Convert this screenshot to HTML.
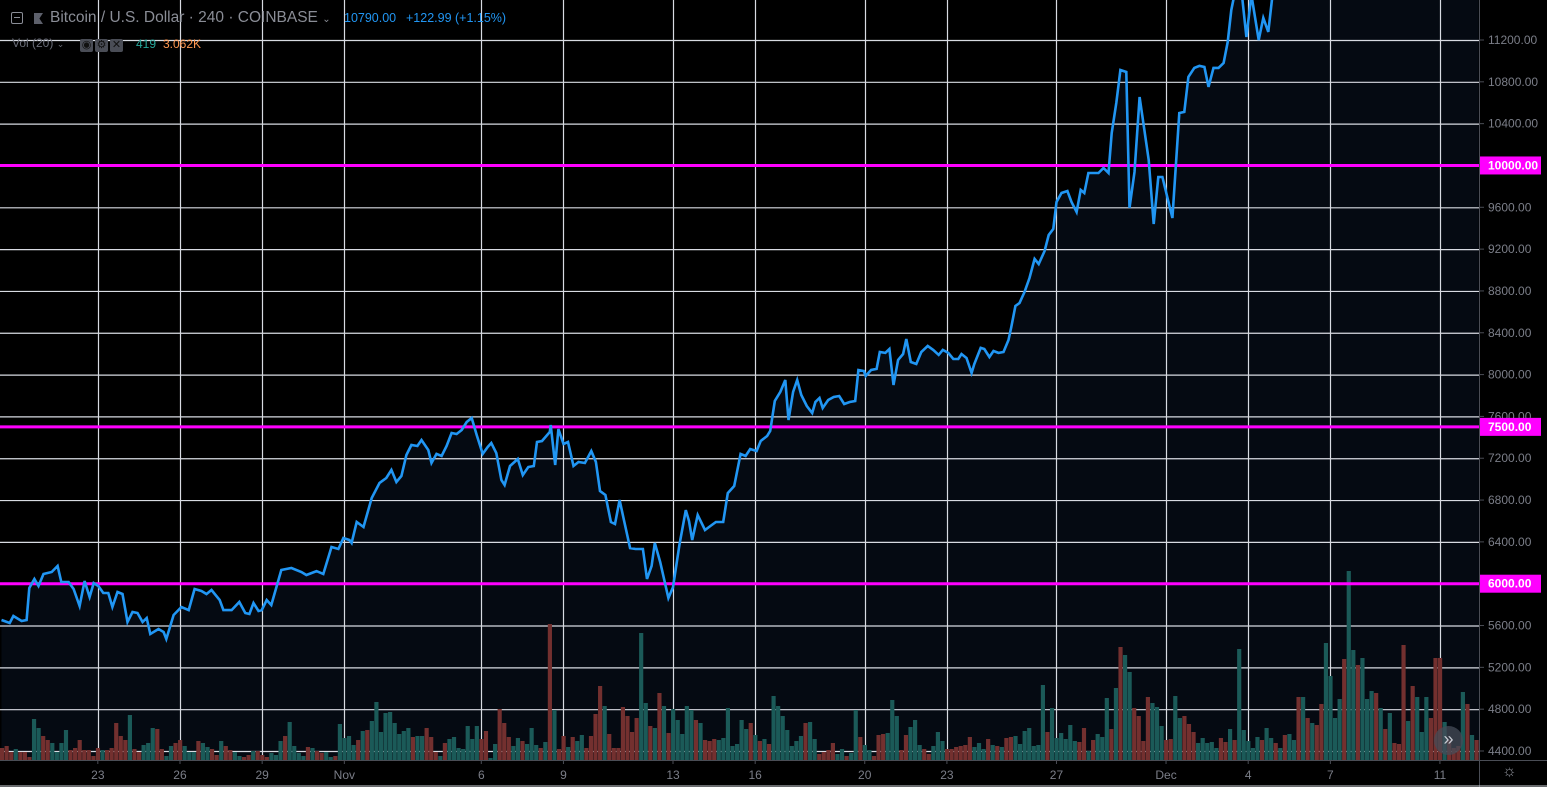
<!DOCTYPE html>
<html><head><meta charset="utf-8"><style>
html,body{margin:0;padding:0;background:#000;width:1547px;height:787px;overflow:hidden;font-family:"Liberation Sans",sans-serif}
#wrap{position:relative;width:1547px;height:787px}
svg{position:absolute;left:0;top:0}
.hdr{position:absolute;font-size:13px;color:#8a8d96;white-space:nowrap}
</style></head><body>
<div id="wrap">
<svg id="chart" width="1547" height="787"></svg>
<div class="hdr" style="left:11px;top:11px"><span style="display:inline-block;width:10px;height:10px;border:1px solid #8a8d96;border-radius:2px;position:relative;vertical-align:-1px"><span style="position:absolute;left:2px;top:4px;width:6px;height:1px;background:#8a8d96"></span></span></div>
<div class="hdr" style="left:34px;top:12px"><span style="display:inline-block;width:9px;height:11px;background:#5d606b;clip-path:polygon(0 0,100% 0,60% 50%,100% 100%,0 100%)"></span></div>
<div class="hdr" style="left:50px;top:9px;font-size:15.5px">Bitcoin / U.S. Dollar · 240 · COINBASE <span style="font-size:10px">&#8964;</span></div>
<div class="hdr" style="left:344px;top:11px;font-size:12.5px;color:#2196f3">10790.00</div>
<div class="hdr" style="left:406px;top:11px;font-size:12.5px;color:#2196f3">+122.99 (+1.15%)</div>
<div class="hdr" style="left:12px;top:36px;font-size:12px;color:#6a6d78">Vol (20) <span style="font-size:9px">&#8964;</span></div>
<div class="hdr" style="left:80px;top:36px"><span style="display:inline-block;width:13px;height:13px;background:#4a4d56;border-radius:2px;margin-right:2px;color:#111;font-size:11px;text-align:center;line-height:13px">&#9673;</span><span style="display:inline-block;width:13px;height:13px;background:#4a4d56;border-radius:2px;margin-right:2px;color:#111;font-size:11px;text-align:center;line-height:13px">&#9881;</span><span style="display:inline-block;width:13px;height:13px;background:#4a4d56;border-radius:2px;color:#111;font-size:11px;text-align:center;line-height:13px">&#10005;</span></div>
<div class="hdr" style="left:136px;top:37px;font-size:12px;color:#26a69a">419</div>
<div class="hdr" style="left:163px;top:37px;font-size:12px;color:#ff9850">3.062K</div>
<div style="position:absolute;left:1434px;top:726px;width:29px;height:29px;border-radius:50%;background:rgba(70,76,88,0.75);color:#c8cbd3;font-size:18px;text-align:center;line-height:27px">&raquo;</div>
<div style="position:absolute;left:1502px;top:763px;font-size:16px;color:#8a8d96">&#9788;</div>
</div>
<script>
const priceIdx=[0,1.8,2.6,4.4,5.5,6.1,7.2,8.1,9.2,11.0,12.3,13.1,14.7,15.8,17.1,18.2,19.3,20.2,21.2,22.3,23.4,24.3,25.4,26.5,27.6,28.7,29.8,30.9,31.8,32.6,34.4,35.5,36.1,37.7,39.4,41.0,42.3,43.8,44.9,46.0,47.8,48.6,50.4,52.1,53.4,54.3,55.2,56.3,57.0,58.1,59.1,61.3,63.5,65.7,66.8,69.0,70.5,72.3,73.8,74.9,76.2,76.7,77.8,79.3,81.1,82.8,84.3,85.4,86.5,87.6,88.7,89.8,91.1,92.0,93.5,94.2,95.3,96.4,97.5,98.6,99.7,100.8,101.9,103.0,104.1,105.4,106.5,107.3,108.4,109.5,110.2,111.4,113.1,114.2,115.4,116.6,117.3,118.4,120.1,120.3,121.3,122.0,123.1,124.1,125.3,126.4,127.8,129.2,130.2,131.1,132.3,133.5,134.4,135.4,136.3,137.7,138.9,140.5,141.4,142.4,143.1,144.3,146.1,147.1,148.5,149.9,150.6,151.3,152.5,154.1,155.3,156.5,158.1,159.1,160.5,161.9,163.0,164.0,165.4,166.3,167.7,168.4,169.4,170.6,171.7,172.4,173.4,174.3,175.2,176.4,177.6,178.3,179.2,179.9,181.1,182.3,183.5,184.6,185.8,187.0,187.7,188.9,189.3,190.5,191.7,192.4,193.6,194.5,195.4,196.4,197.5,198.2,199.2,200.4,201.5,202.9,204.1,205.3,206.2,207.4,208.5,209.6,210.3,211.4,212.5,213.1,214.5,215.3,216.4,217.3,218.4,219.5,220.6,221.2,222.1,223.0,224.1,225.2,226.3,227.2,228.5,229.4,230.4,231.1,232.2,233.5,234.4,235.5,236.4,237.2,238.1,240.3,241.4,242.5,243.2,244.2,245.1,246.4,247.1,248.2,249.3,251.3,252.4,253.4,254.3,256.5,258.0,259.1,260.0,261.3,262.4,263.5,264.4,265.5,266.6,267.7,268.6,269.4,270.3,271.6,272.7,273.8,275.4,276.4,277.5,278.6,282,290,300,310,323.5];
const priceVal=[5653,5624,5691,5643,5653,5959,6045,5978,6093,6112,6169,6016,6016,5949,5787,6026,5873,6007,5978,5911,5911,5777,5921,5902,5634,5729,5720,5634,5672,5519,5567,5538,5471,5701,5777,5748,5949,5930,5902,5940,5844,5748,5748,5825,5720,5710,5815,5739,5748,5844,5796,6131,6150,6112,6083,6121,6093,6351,6332,6437,6418,6389,6590,6542,6820,6963,7011,7088,6973,7030,7231,7327,7317,7374,7279,7154,7241,7221,7317,7441,7432,7470,7547,7585,7422,7241,7307,7346,7250,6992,6944,7126,7193,7040,7116,7126,7355,7365,7451,7518,7135,7480,7336,7355,7126,7164,7154,7269,7164,6887,6848,6590,6571,6801,6619,6341,6332,6332,6045,6169,6389,6207,5863,5968,6370,6704,6600,6418,6657,6514,6552,6590,6590,6867,6934,7241,7221,7288,7269,7365,7413,7461,7747,7834,7948,7566,7834,7948,7805,7700,7633,7738,7776,7680,7757,7786,7795,7719,7738,7747,8044,8034,7987,8044,8054,8216,8207,8245,7900,8140,8197,8340,8120,8101,8216,8274,8236,8188,8236,8207,8149,8149,8197,8159,8015,8101,8255,8245,8168,8226,8207,8216,8331,8455,8656,8685,8790,8924,9106,9058,9182,9335,9393,9651,9737,9756,9651,9555,9766,9737,9928,9928,9976,9928,10311,10598,10913,10894,9594,9938,10655,10053,9440,9890,9890,9498,10502,10512,10847,10933,10952,10942,10751,10933,10933,10980,11181,11487,11679,11679,11229,11631,11200,11411,11277,11698,11900,12200,13500,16000,16500];
const volumes=[12,14,8,11,8,8,3,41,32,24,20,17,8,17,30,10,12,20,10,10,4,12,10,10,12,37,24,20,45,11,8,15,17,32,31,11,4,14,17,20,14,8,8,19,17,13,11,5,19,14,10,8,4,3,5,9,9,5,3,7,5,19,24,38,14,7,4,13,12,9,7,8,3,4,36,22,24,15,20,29,30,39,58,28,47,48,37,26,29,32,23,24,24,32,23,8,4,17,21,23,12,11,34,21,34,21,29,2,16,51,37,23,14,22,19,16,32,15,12,18,136,50,11,24,13,23,19,25,12,24,46,74,54,26,12,12,53,44,28,42,127,57,34,32,67,54,27,51,40,
26,54,50,40,37,20,19,21,20,22,52,14,16,40,31,37,25,19,21,16,64,54,44,30,14,19,24,37,38,21,6,8,10,17,6,11,4,7,50,23,15,10,4,25,26,27,60,44,10,25,33,40,15,11,6,14,28,19,11,11,13,14,15,23,13,17,11,21,15,14,13,22,23,24,16,29,32,14,15,75,28,52,22,27,21,35,19,18,32,9,20,26,23,62,31,72,113,105,88,52,44,19,63,57,53,34,20,21,64,42,44,36,28,17,22,17,18,12,22,18,31,20,111,30,19,12,23,20,32,22,17,12,25,26,20,63,
63,42,37,35,56,117,84,42,61,101,189,110,95,102,61,69,67,52,31,47,17,16,115,39,74,63,28,63,42,102,102,38,20,12,14,68,56,25,20];
const volDir="ddduddduudduuuudddddddudddddudduuudduudduuuduuddudduudduddduuuduuuududduuduuuududuuuuuuuuuduuddduduuuuuuudduuddduuduuudududduduudddduddddddduudududuuu"+
"uududdduuuuuuudududuuuuuuuduudddduuduuduuddduuudduuudduuudddddduuudududduuuuuuuduuuuuudduduuududuudddduuudduuddduuuuudduduuuuuduududuudududdu"+
"uuuduuduuudududdduduuudddudddududuuuuduuudduudd";
const priceTicks=[4400,4800,5200,5600,6000,6400,6800,7200,7600,8000,8400,8800,9200,9600,10000,10400,10800,11200,11600];
const levelLines=[6000,7500,10000];
const dayOffsets=[-9,-6,-3,0,5,8,12,15,19,22,26,30,33,36,40];
const dayLabels=["23","26","29","Nov","6","9","13","16","20","23","27","Dec","4","7","11"];

const NS="http://www.w3.org/2000/svg";
const svg=document.getElementById('chart');
const plotR=1479,plotB=760,barW=4.565;
function xOf(i){return i*barW+1.5;}
function yOf(p){return 40+(11200-p)*(711/6800);}
function vH(v){return v;}
function mk(tag,attrs,parent){const e=document.createElementNS(NS,tag);for(const k in attrs)e.setAttribute(k,attrs[k]);(parent||svg).appendChild(e);return e;}
const defs=mk('defs',{});
const cp=mk('clipPath',{id:'plotclip'},defs);mk('rect',{x:0,y:0,width:plotR,height:plotB},cp);
const gPlot=mk('g',{'clip-path':'url(#plotclip)'});


let d='M'+xOf(priceIdx[0])+','+plotB;
for(let i=0;i<priceIdx.length;i++)d+=' L'+xOf(priceIdx[i]).toFixed(1)+','+yOf(priceVal[i]).toFixed(1);
d+=' L'+plotR+','+plotB+' Z';
const area=mk('path',{d:d,fill:'#050a12'},gPlot);


priceTicks.forEach(p=>{const l=mk('line',{x1:0,x2:plotR,y1:yOf(p)+0.5,y2:yOf(p)+0.5,stroke:'#d8dbe2','stroke-width':1.2},gPlot);

});
dayOffsets.forEach(dd=>{const x=Math.round(xOf(75.1+6*dd))+0.5;const l=mk('line',{x1:x,x2:x,y1:0,y2:plotB,stroke:'#d8dbe2','stroke-width':1.2},gPlot);

});
volumes.forEach((v,i)=>{const up=volDir[i]==='u';const h=vH(v);
const r=mk('rect',{x:(i*barW).toFixed(2),y:(plotB-h).toFixed(1),width:(barW-0.4).toFixed(2),height:h,fill:up?'#1b5a58':'#73302f'},gPlot);

});
levelLines.forEach(p=>{const l=mk('line',{x1:0,x2:plotR,y1:yOf(p),y2:yOf(p),stroke:'#ff00ff','stroke-width':3},gPlot);

});
let dl='';
for(let i=0;i<priceIdx.length;i++)dl+=(i?' L':'M')+xOf(priceIdx[i]).toFixed(1)+','+yOf(priceVal[i]).toFixed(1);
const pl=mk('path',{d:dl,fill:'none',stroke:'#2196f3','stroke-width':2.6,'stroke-linejoin':'miter'},gPlot);


const ax=mk('rect',{x:plotR,y:0,width:1547-plotR,height:787,fill:'#000'});


const bx=mk('rect',{x:0,y:plotB,width:plotR,height:27,fill:'#000'});


mk('line',{x1:plotR+0.5,x2:plotR+0.5,y1:0,y2:787,stroke:'#4a4d55','stroke-width':1});
mk('line',{x1:0,x2:1547,y1:plotB+0.5,y2:plotB+0.5,stroke:'#4a4d55','stroke-width':1});
mk('line',{x1:0,x2:1547,y1:786,y2:786,stroke:'#d0d3da','stroke-width':1});
priceTicks.forEach(p=>{const y=yOf(p);if(y<5||y>plotB)return;
mk('line',{x1:plotR,x2:plotR+5,y1:y,y2:y,stroke:'#4a4d55'});
const t=mk('text',{x:1488,y:y+4,fill:'#7b7e88','font-size':12,'font-family':'Liberation Sans, sans-serif'});t.textContent=p.toFixed(2);

});
levelLines.forEach(p=>{const y=yOf(p);
const b=mk('rect',{x:plotR+1,y:y-9,width:61,height:18,fill:'#ff00ff'});


const t=mk('text',{x:1488,y:y+4,fill:'#fff','font-size':12,'font-weight':'bold','font-family':'Liberation Sans, sans-serif'});t.textContent=p.toFixed(2);

});
dayOffsets.forEach((dd,k)=>{const x=xOf(75.1+6*dd);
mk('line',{x1:x,x2:x,y1:plotB,y2:plotB+4,stroke:'#4a4d55'});
const t=mk('text',{x:x,y:779,fill:'#7b7e88','font-size':12,'text-anchor':'middle','font-family':'Liberation Sans, sans-serif'});t.textContent=dayLabels[k];

});
</script>
</body></html>
